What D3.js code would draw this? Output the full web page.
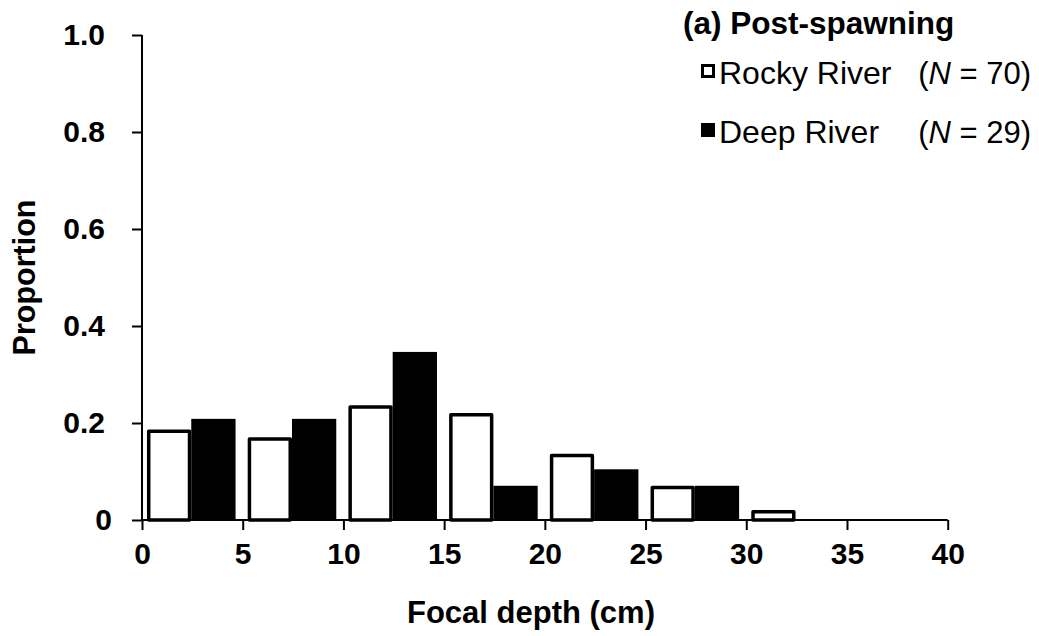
<!DOCTYPE html>
<html>
<head>
<meta charset="utf-8">
<script src="https://cdn.jsdelivr.net/npm/d3@7"></script>
<style>
  body { margin: 0; background: #fff; }
  svg { display: block; }
  text { font-family: "Liberation Sans", Arial, sans-serif; }
</style>
</head>
<body>
<svg id="chart" width="1039" height="636"></svg>
<script>
// Depth classes (cm), lower bin edges
const binStarts = [0, 5, 10, 15, 20, 25, 30];
const binWidth = 5;
// Proportion of fish in each depth class
const rockyValues = [0.183, 0.167, 0.233, 0.217, 0.133, 0.067, 0.017];
const deepValues  = [0.207, 0.207, 0.345, 0.069, 0.103, 0.069, 0];
const seriesNames = ["Rocky River", "Deep River"];
const seriesN = [70, 29];
const xTicks = [0, 5, 10, 15, 20, 25, 30, 35, 40];
const yTicks = [0, 0.2, 0.4, 0.6, 0.8, 1.0];
const yTickLabels = ["0", "0.2", "0.4", "0.6", "0.8", "1.0"];

const svg = d3.select("#chart");
const x = d3.scaleLinear().domain([0, 40]).range([142, 947.7]);
const y = d3.scaleLinear().domain([0, 1]).range([520, 35]);

// Two series side by side inside each depth class
const binPx = x(binWidth) - x(0);
const inner = d3.scaleBand().domain(seriesNames).range([0, binPx])
  .paddingInner(0).paddingOuter(0.137).align(0.41);

const rows = binStarts.map((b, i) => ({ bin: b, rocky: rockyValues[i], deep: deepValues[i] }));

const rockyStroke = 3.5;
const bars = svg.append("g");
bars.selectAll("rect.rocky").data(rows).join("rect")
  .attr("class", "rocky")
  .attr("x", d => x(d.bin) + inner("Rocky River") + rockyStroke / 2)
  .attr("width", inner.bandwidth() - rockyStroke)
  .attr("y", d => y(d.rocky))
  .attr("height", d => y(0) - y(d.rocky))
  .attr("fill", "#fff").attr("stroke", "#000").attr("stroke-width", rockyStroke)
  .attr("stroke-linejoin", "round");

bars.selectAll("rect.deep").data(rows.filter(d => d.deep > 0)).join("rect")
  .attr("class", "deep")
  .attr("x", d => x(d.bin) + inner("Deep River") + 0.75)
  .attr("width", inner.bandwidth() - 1.5)
  .attr("y", d => y(d.deep))
  .attr("height", d => y(0) - y(d.deep))
  .attr("fill", "#000").attr("stroke", "#000").attr("stroke-width", 1.5);

// Axes
const xAxis = d3.axisBottom(x).tickValues(xTicks).tickSize(10).tickPadding(13).tickFormat(d3.format("d"));
const yAxis = d3.axisLeft(y).tickValues(yTicks).tickSize(10).tickPadding(27)
  .tickFormat((d, i) => yTickLabels[i]);

const gx = svg.append("g").attr("transform", `translate(0,${y(0)})`).call(xAxis);
const gy = svg.append("g").attr("transform", `translate(${x(0)},0)`).call(yAxis);
[gx, gy].forEach(g => {
  g.select(".domain").attr("stroke", "#000").attr("stroke-width", 2);
  g.selectAll(".tick line").attr("stroke", "#000").attr("stroke-width", 2);
  g.selectAll(".tick text").attr("fill", "#000")
    .style("font-family", "'Liberation Sans', Arial, sans-serif")
    .style("font-size", "30px").style("font-weight", "bold");
});
// the zero label sits a little further right than the decimal labels
gy.selectAll(".tick text").filter(d => d === 0).attr("x", -30);
gx.select(".domain").attr("d", `M${x(0)},0H${x(40)}`);
gy.select(".domain").attr("d", `M0,${y(1)}V${y(0)}`);

// Axis titles
svg.append("text")
  .attr("x", 531).attr("y", 623)
  .attr("text-anchor", "middle")
  .style("font-size", "31px").style("font-weight", "bold")
  .text("Focal depth (cm)");

svg.append("text")
  .attr("transform", `translate(35,${y(0.5)}) rotate(-90)`)
  .attr("text-anchor", "middle")
  .style("font-size", "30.5px").style("font-weight", "bold")
  .text("Proportion");

// Legend
const legend = svg.append("g");
legend.append("text").attr("x", 683).attr("y", 34)
  .style("font-size", "31.5px").style("font-weight", "bold")
  .text("(a) Post-spawning");

const legendRows = [
  { name: seriesNames[0], n: seriesN[0], fill: "#fff", base: 84 },
  { name: seriesNames[1], n: seriesN[1], fill: "#000", base: 143 }
];
legendRows.forEach(r => {
  legend.append("rect")
    .attr("x", 702.5).attr("y", r.base - 18.5).attr("width", 11).attr("height", 11)
    .attr("fill", r.fill).attr("stroke", "#000").attr("stroke-width", 3);
  legend.append("text").attr("x", 719).attr("y", r.base)
    .style("font-size", "32px").text(r.name);
  const t = legend.append("text").attr("x", 1031).attr("y", r.base)
    .attr("text-anchor", "end").style("font-size", "31px");
  t.append("tspan").text("(");
  t.append("tspan").style("font-style", "italic").text("N");
  t.append("tspan").text(` = ${r.n})`);
});
</script>
</body>
</html>
